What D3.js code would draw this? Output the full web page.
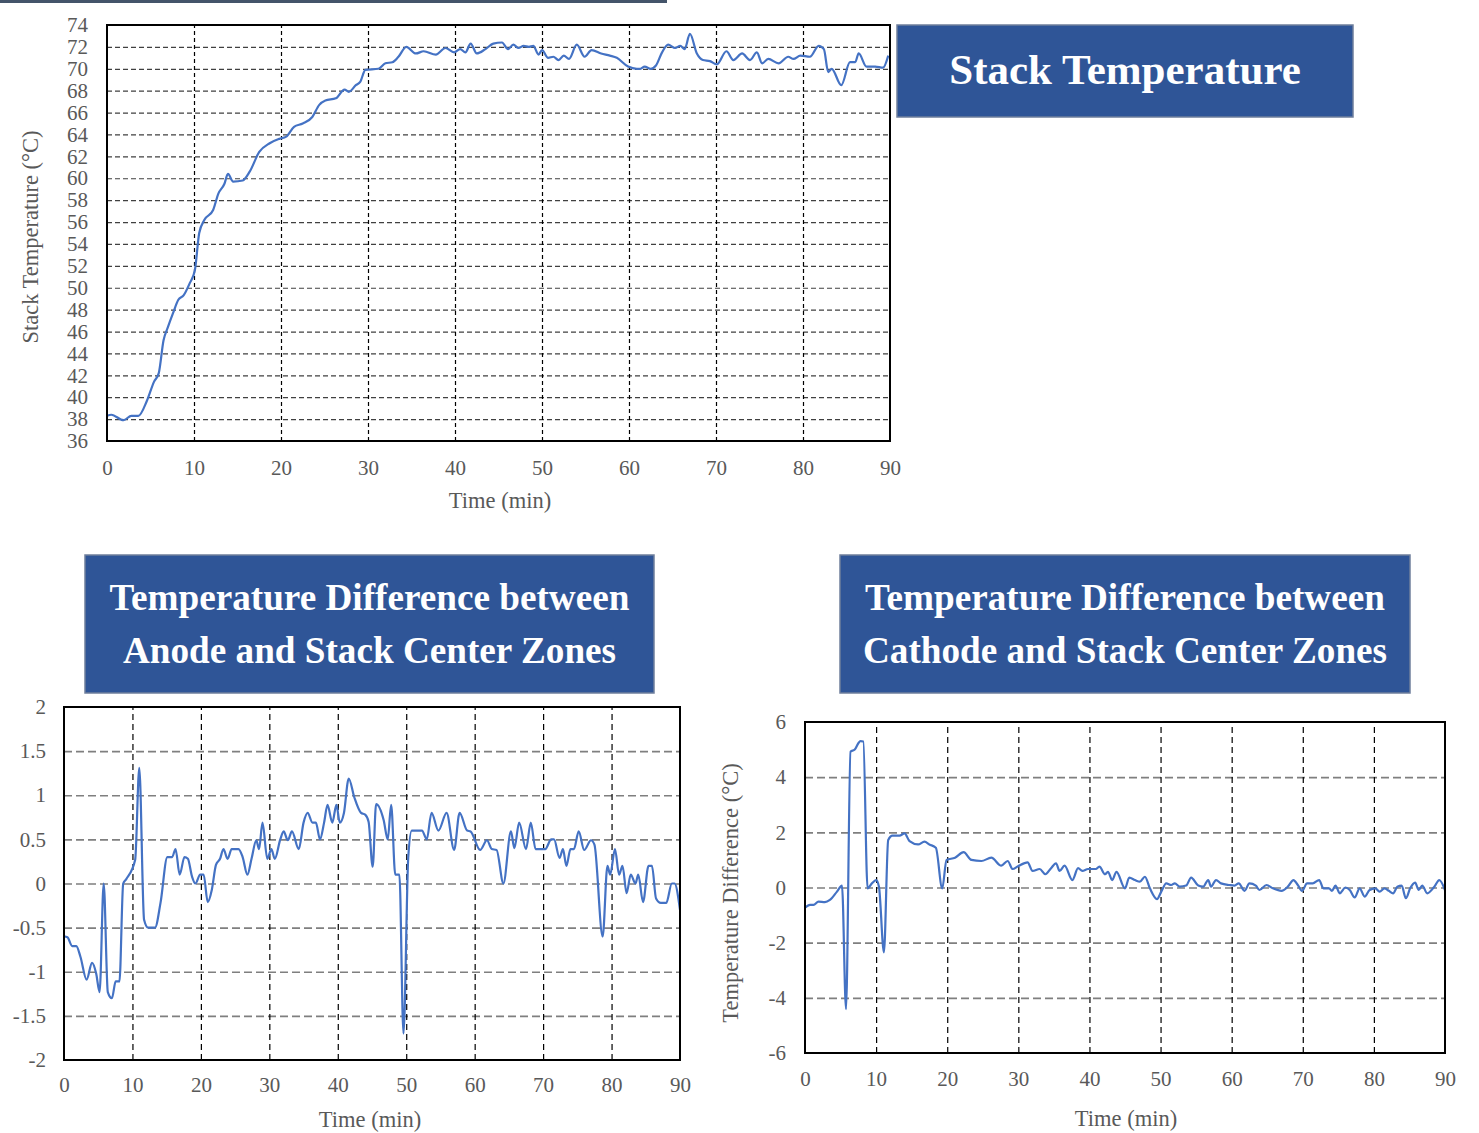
<!DOCTYPE html>
<html><head><meta charset="utf-8">
<script src="https://cdn.jsdelivr.net/npm/d3@7"></script>
<style>
html,body{margin:0;padding:0;background:#fff;}
svg{display:block;font-family:"Liberation Serif","Times New Roman",serif;}
</style></head>
<body>
<svg id="c" width="1479" height="1133"></svg>
<script>
// ---------- DATA ----------
const stackTime = [0,0.5,1.9,2.8,3.6,4.6,5.4,5.95,6.5,7.0,7.6,8.2,8.8,9.5,10.1,10.6,11.2,12.2,12.8,13.5,13.9,14.5,15.6,16.4,17.5,18.7,19.8,20.6,21.5,22.5,23.6,24.4,25.1,26.3,27.3,27.8,28.6,29.1,29.7,31.2,32.0,32.8,33.5,34.4,35.5,36.4,37.8,38.9,39.9,40.6,41.2,41.8,42.5,43.5,44.4,45.4,46.1,46.7,47.3,47.9,48.5,49.0,49.6,50.0,50.7,51.3,51.9,52.5,53.1,54.0,54.9,55.7,56.8,57.8,58.6,59.9,60.9,61.3,61.8,62.5,63.1,63.8,64.5,65.3,65.9,66.4,67.0,67.8,68.5,69.3,70.1,71.2,72.0,73.0,73.9,74.7,75.3,76.0,77.2,78.3,78.9,79.7,80.8,81.8,82.4,82.9,83.3,84.4,85.4,86.0,86.4,87.3,88.3,89.2,89.8];
const stackTemp = [38.3,38.4,37.9,38.3,38.3,39.7,41.4,42.2,45.2,46.4,47.7,48.9,49.3,50.4,51.6,55.0,56.2,57.1,58.6,59.5,60.4,59.7,59.8,60.6,62.4,63.2,63.6,63.8,64.7,65.0,65.6,66.7,67.1,67.3,68.1,67.9,68.5,68.8,69.9,70.0,70.5,70.6,71.1,72.0,71.4,71.6,71.3,71.9,71.5,71.8,71.5,72.3,71.4,71.8,72.3,72.4,71.8,72.2,71.9,72.1,72.0,72.1,71.3,71.7,71.0,71.1,70.8,71.2,70.9,72.2,71.1,71.7,71.4,71.2,71.0,70.2,70.0,70.0,70.2,70.0,70.3,71.5,72.2,71.9,72.1,71.8,73.2,71.4,70.8,70.7,70.4,71.6,70.8,71.4,70.8,71.5,70.5,70.9,70.5,71.1,70.9,71.2,71.1,72.1,71.8,69.7,70.0,68.5,70.6,70.6,71.4,70.2,70.2,70.1,71.2];

const anodeTime = [0,0.5,1.2,1.8,2.4,3.3,4.1,4.7,5.2,5.8,6.4,7.0,7.55,8.1,8.65,9.1,10.4,11.0,11.7,12.3,13.3,14.1,15.1,15.8,16.3,16.9,17.6,18.1,18.7,19.2,19.9,20.4,21.0,21.6,22.2,22.8,23.3,23.9,24.5,25.5,26.1,26.8,27.4,28.1,28.5,29.0,29.7,30.3,30.8,31.6,32.1,32.7,33.3,34.3,35.0,35.6,36.3,36.8,37.4,38.0,38.5,39.2,39.8,40.3,40.9,41.6,42.4,43.4,44.0,44.5,45.1,45.6,46.7,47.3,47.8,48.4,49.0,49.6,50.3,50.8,52.3,53.0,53.7,54.7,55.9,57.0,57.8,58.9,59.4,60.8,61.8,62.5,63.2,64.2,65.3,65.8,66.5,67.5,68.2,68.9,70.3,71.2,71.6,72.4,72.9,73.4,74.0,74.5,75.2,76.0,77.0,77.5,78.7,79.4,79.8,80.5,81.1,81.6,82.2,82.8,83.5,83.9,84.6,85.4,85.9,86.5,87.2,88.0,88.8,89.2,90.0];
const anodeDiff = [-0.6,-0.61,-0.71,-0.71,-0.83,-1.09,-0.90,-1.02,-1.23,0.0,-1.23,-1.30,-1.11,-1.11,0.0,0.05,0.27,1.31,-0.41,-0.5,-0.5,-0.22,0.30,0.30,0.39,0.10,0.30,0.28,0.08,0.0,0.10,0.10,-0.21,-0.07,0.21,0.28,0.39,0.28,0.39,0.39,0.30,0.10,0.28,0.49,0.39,0.69,0.28,0.39,0.28,0.5,0.59,0.49,0.59,0.39,0.69,0.80,0.69,0.69,0.5,0.69,0.89,0.69,0.89,0.69,0.80,1.19,0.98,0.80,0.78,0.70,0.19,0.90,0.72,0.5,0.89,0.10,0.10,-1.70,0.30,0.60,0.6,0.5,0.80,0.6,0.80,0.38,0.80,0.6,0.59,0.38,0.49,0.39,0.38,0.0,0.59,0.40,0.69,0.39,0.69,0.39,0.39,0.5,0.5,0.29,0.39,0.2,0.39,0.39,0.59,0.38,0.49,0.44,-0.60,0.2,0.10,0.39,0.10,0.2,-0.11,0.10,0.0,0.10,-0.21,0.2,0.2,-0.17,-0.22,-0.22,0.0,0.0,-0.30];

const cathodeTime = [0,0.7,1.2,1.9,2.8,3.5,4.5,5.2,5.77,6.4,7.0,7.5,7.8,8.2,8.8,9.4,10.0,10.4,11.1,11.7,12.3,13.3,14.0,14.7,15.9,16.8,17.5,18.4,19.3,19.9,21.1,22.3,23.4,24.8,26.2,27.6,28.5,29.2,29.9,31.3,32.0,33.0,33.8,34.6,35.3,35.8,36.5,37.6,38.4,39.0,39.8,40.9,41.4,42.2,42.6,43.2,43.8,45.0,45.6,46.4,47.1,47.8,48.5,49.5,50.1,50.8,51.5,52.0,52.7,53.6,54.3,55.3,56.0,56.7,57.1,57.8,58.5,59.7,60.4,61.0,61.8,62.5,63.4,63.9,64.9,65.8,67.0,67.9,68.7,69.3,69.9,70.6,71.4,72.3,72.9,73.7,74.1,74.6,75.2,76.0,76.6,77.3,78.0,78.7,79.4,80.2,80.8,81.5,82.1,82.7,83.3,83.9,84.5,85.1,85.8,86.3,86.8,87.5,88.5,89.2,90.0];
const cathodeDiff = [-0.73,-0.63,-0.63,-0.51,-0.53,-0.45,-0.15,0.07,-4.41,4.92,5.0,5.23,5.31,5.29,-0.03,0.15,0.27,0.03,-2.35,1.72,1.88,1.88,1.96,1.68,1.56,1.66,1.56,1.44,-0.03,1.0,1.08,1.28,1.0,0.96,1.08,0.79,0.96,0.67,0.76,0.91,0.6,0.67,0.48,0.7,0.88,0.6,0.79,0.27,0.7,0.6,0.67,0.67,0.76,0.48,0.57,0.27,0.57,-0.03,0.36,0.27,0.21,0.39,-0.03,-0.42,-0.15,0.15,0.09,0.15,0.03,0.07,0.36,0.07,0.03,0.27,0.03,0.27,0.15,0.09,0.07,0.15,-0.12,0.15,0.07,-0.09,0.09,-0.03,-0.12,0.03,0.27,0.09,-0.12,0.15,0.15,0.27,-0.03,-0.03,-0.12,0.07,-0.21,0.0,-0.09,-0.36,-0.03,-0.33,-0.09,-0.03,-0.15,-0.03,-0.12,-0.21,0.03,0.07,-0.39,-0.03,0.18,-0.09,0.07,-0.21,0.03,0.27,-0.09];

const timeTicks = [0,10,20,30,40,50,60,70,80,90];
const stackTicks = [36,38,40,42,44,46,48,50,52,54,56,58,60,62,64,66,68,70,72,74];
const anodeTicks = [-2,-1.5,-1,-0.5,0,0.5,1,1.5,2];
const cathodeTicks = [-6,-4,-2,0,2,4,6];

const titleStack = ["Stack Temperature"];
const titleAnode = ["Temperature Difference between","Anode and Stack Center Zones"];
const titleCathode = ["Temperature Difference between","Cathode and Stack Center Zones"];
const xTitle = "Time (min)";
const yTitleStack = "Stack Temperature (°C)";
const yTitleCathode = "Temperature Difference (°C)";

// ---------- DRAW ----------
const svg = d3.select("#c");
const TXT = "#595959", LINE = "#4472C4", BOX = "#2F5597";

svg.append("rect").attr("x",0).attr("y",0).attr("width",667).attr("height",3).attr("fill","#44546A");

function chart(o){
  const x = d3.scaleLinear().domain([0,90]).range([o.x0,o.x1]);
  const y = d3.scaleLinear().domain(o.yDom).range([o.y1,o.y0]);
  const g = svg.append("g");
  g.append("g").attr("transform",`translate(${o.x0},0)`)
    .call(d3.axisLeft(y).tickValues(o.yTicks.filter(v=>v!==o.yDom[0]&&v!==o.yDom[1])).tickSize(-(o.x1-o.x0)).tickFormat(""))
    .call(s=>s.select(".domain").remove())
    .call(s=>s.selectAll("line").attr("stroke",o.hCol).attr("stroke-width",o.hW).attr("stroke-dasharray",o.hDash));
  g.append("g").attr("transform",`translate(0,${o.y1})`)
    .call(d3.axisBottom(x).tickValues(timeTicks.filter(v=>v!==0&&v!==90)).tickSize(-(o.y1-o.y0)).tickFormat(""))
    .call(s=>s.select(".domain").remove())
    .call(s=>s.selectAll("line").attr("stroke","#000").attr("stroke-width",1.2).attr("stroke-dasharray",o.vDash));
  const line = d3.line().x(d=>x(d[0])).y(d=>y(d[1])).curve(d3.curveMonotoneX);
  g.append("path").datum(o.t.map((t,i)=>[t,o.v[i]]))
    .attr("d",line).attr("fill","none").attr("stroke",LINE).attr("stroke-width",2.2).attr("stroke-linejoin","round");
  g.append("rect").attr("x",o.x0).attr("y",o.y0).attr("width",o.x1-o.x0).attr("height",o.y1-o.y0)
    .attr("fill","none").attr("stroke","#000").attr("stroke-width",2);
  g.append("g").attr("transform",`translate(${o.x0},0)`)
    .call(d3.axisLeft(y).tickValues(o.yTicks).tickSize(0).tickPadding(o.yPad).tickFormat(d=>String(d)))
    .call(s=>s.select(".domain").remove())
    .call(s=>s.selectAll("text").attr("fill",TXT).attr("font-size",o.fs).attr("font-family","Liberation Serif"));
  g.append("g").attr("transform",`translate(0,${o.y1})`)
    .call(d3.axisBottom(x).tickValues(timeTicks).tickSize(0).tickPadding(o.xPad).tickFormat(d=>String(d)))
    .call(s=>s.select(".domain").remove())
    .call(s=>s.selectAll("text").attr("fill",TXT).attr("font-size",o.fs).attr("font-family","Liberation Serif"));
  g.append("text").attr("x",o.xtX).attr("y",o.xtY).attr("text-anchor","middle").attr("fill",TXT)
    .attr("font-size",o.tfs).text(xTitle);
  if(o.yTitle){
    g.append("text").attr("transform",`translate(${o.ytX},${o.ytY}) rotate(-90)`).attr("text-anchor","middle")
      .attr("dominant-baseline","middle").attr("fill",TXT).attr("font-size",o.tfs).text(o.yTitle);
  }
}

function titleBox(x,y,w,h,lines,fs,lh,cy){
  svg.append("rect").attr("x",x).attr("y",y).attr("width",w).attr("height",h)
    .attr("fill",BOX).attr("stroke","#6F7F9C").attr("stroke-width",1.5);
  const n = lines.length;
  lines.forEach((s,i)=>{
    svg.append("text").attr("x",x+w/2).attr("y",cy + (i-(n-1)/2)*lh).attr("text-anchor","middle")
      .attr("dominant-baseline","central").attr("fill","#fff").attr("font-weight","bold")
      .attr("font-size",fs).attr("font-family","Liberation Serif").text(s);
  });
}

chart({x0:107,x1:890,y0:25,y1:441,yDom:[36,74],yTicks:stackTicks,t:stackTime,v:stackTemp,
  hCol:"#404040",hW:1.2,hDash:"5,3",vDash:"4,3",fs:21,tfs:22.5,yPad:19,xPad:19,xtX:500,xtY:508,
  yTitle:yTitleStack,ytX:33,ytY:237});
chart({x0:64,x1:680,y0:707,y1:1060,yDom:[-2,2],yTicks:anodeTicks,t:anodeTime,v:anodeDiff,
  hCol:"#7F7F7F",hW:1.6,hDash:"8,4",vDash:"6,4",fs:21,tfs:22.5,yPad:18,xPad:17,xtX:370,xtY:1127});
chart({x0:805,x1:1445,y0:722,y1:1053,yDom:[-6,6],yTicks:cathodeTicks,t:cathodeTime,v:cathodeDiff,
  hCol:"#7F7F7F",hW:1.6,hDash:"8,4",vDash:"6,4",fs:21,tfs:22.5,yPad:19,xPad:18,xtX:1126,xtY:1126,
  yTitle:yTitleCathode,ytX:733,ytY:893});

titleBox(897,25,456,92,titleStack,43,0,69);
titleBox(85,555,569,138,titleAnode,37.2,53,624);
titleBox(840,555,570,138,titleCathode,37.2,53,624);
</script>
</body></html>
